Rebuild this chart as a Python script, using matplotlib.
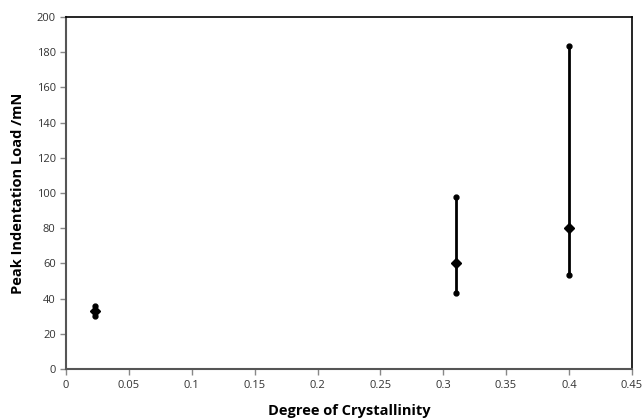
import matplotlib.pyplot as plt

# values
crystallinity = [0.023, 0.31, 0.40]
mean_load = [33, 60, 80]
low_load = [30, 43.5, 53.5]
high_load = [36, 97.5, 183.5]

plt.rcParams['font.family'] = ['Open Sans', 'DejaVu Sans']

fig = plt.figure(figsize=(6.42, 4.2), dpi=100)
ax = fig.add_axes([0.103, 0.121, 0.881, 0.839])

lower_err = [m - l for m, l in zip(mean_load, low_load)]
upper_err = [h - m for m, h in zip(mean_load, high_load)]

ax.errorbar(crystallinity, mean_load, yerr=[lower_err, upper_err], fmt='D',
            color='black', markersize=5, elinewidth=2, capsize=0, zorder=3)
ax.plot(crystallinity, low_load, 'o', color='black', markersize=3.5, zorder=3)
ax.plot(crystallinity, high_load, 'o', color='black', markersize=3.5, zorder=3)

ax.set_xlim(0, 0.45)
ax.set_ylim(0, 200)
ax.set_xticks([0, 0.05, 0.1, 0.15, 0.2, 0.25, 0.3, 0.35, 0.4, 0.45])
ax.set_xticklabels(['0', '0.05', '0.1', '0.15', '0.2', '0.25', '0.3', '0.35', '0.4', '0.45'])
ax.set_yticks(range(0, 201, 20))

ax.tick_params(direction='out', length=4, width=1, color='#888888',
               labelsize=8, labelcolor='#333333')
for side in ['left', 'bottom']:
    ax.spines[side].set_color('#555555')
    ax.spines[side].set_linewidth(1.5)
for side in ['top', 'right']:
    ax.spines[side].set_color('black')
    ax.spines[side].set_linewidth(1.2)

ax.set_xlabel('Degree of Crystallinity', fontsize=10.5, fontweight='bold', labelpad=10)
ax.set_ylabel('Peak Indentation Load /mN', fontsize=10.5, fontweight='bold', labelpad=8)

fig.savefig('out.png', dpi=100)
